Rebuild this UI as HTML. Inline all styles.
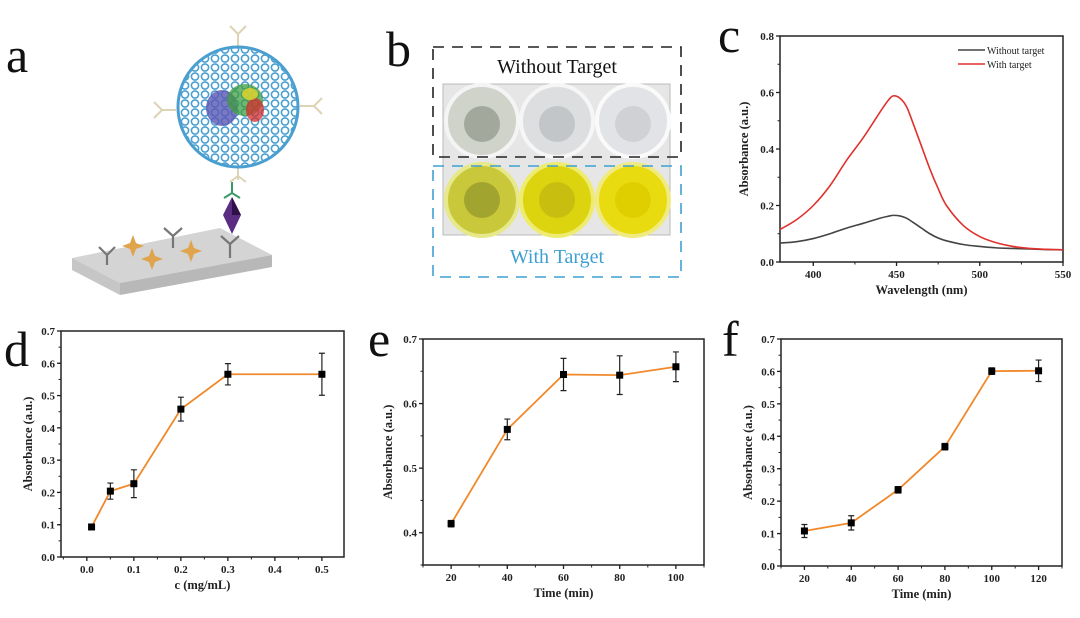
<!DOCTYPE html>
<html><head><meta charset="utf-8">
<style>
html,body{margin:0;padding:0;background:#fff;}
svg{display:block;font-family:"Liberation Serif",serif;}
.tk{font-size:11px;font-weight:bold;fill:#222;}
.ttl{font-size:12.5px;font-weight:bold;fill:#222;}
.let{font-size:50px;fill:#111;}
</style></head>
<body>
<svg id="fig" width="1080" height="618" viewBox="0 0 1080 618" xmlns="http://www.w3.org/2000/svg">
<defs>
  <pattern id="mesh" width="10" height="9" patternUnits="userSpaceOnUse">
    <circle cx="5" cy="4.5" r="3.6" fill="none" stroke="#4a9fd0" stroke-width="1.6"/>
  </pattern>
</defs>
<rect width="1080" height="618" fill="#fff"/>
<!-- Panel letters -->
<text class="let" x="6" y="72">a</text>
<text class="let" x="386" y="66">b</text>
<text class="let" x="718" y="52">c</text>
<text class="let" x="4" y="366">d</text>
<text class="let" x="368" y="356">e</text>
<text class="let" x="722" y="356">f</text>

<!-- Panel a schematic -->
<g>
  <polygon points="72,258 220,228 272,255 120,283" fill="#d4d4d4"/>
  <polygon points="120,283 272,255 272,267 120,295" fill="#b8b8b8"/>
  <polygon points="72,258 120,283 120,295 72,270" fill="#c6c6c6"/>
  <g stroke="#777" stroke-width="2.2" fill="none">
    <path d="M107,265 v-10 M107,255 l-8,-8 M107,255 l8,-8"/>
    <path d="M173,248 v-12 M173,236 l-9,-8 M173,236 l9,-8"/>
    <path d="M230,258 v-14 M230,244 l-9,-8 M230,244 l9,-8"/>
  </g>
  <g fill="#e0a44d">
    <path d="M133,235 l3,8 8,3 -8,3 -3,8 -3,-8 -8,-3 8,-3z"/>
    <path d="M152,248 l3,8 8,3 -8,3 -3,8 -3,-8 -8,-3 8,-3z"/>
    <path d="M191,240 l3,8 8,3 -8,3 -3,8 -3,-8 -8,-3 8,-3z"/>
  </g>
  <polygon points="232,197 241,215 232,234 223,215" fill="#5a2d82"/>
  <polygon points="232,197 241,215 232,215" fill="#2e1247"/>
  <g stroke="#3a9a6a" stroke-width="2" fill="none">
    <path d="M232,182 v11 M232,193 l-8,5 M232,193 l8,5"/>
  </g>
  <g stroke="#ddd3b5" stroke-width="2" fill="none">
    <path d="M238,48 v-14 M238,34 l-8,-8 M238,34 l8,-8"/>
    <path d="M176,110 h-14 M162,110 l-8,-8 M162,110 l-8,8"/>
    <path d="M300,106 h14 M314,106 l8,-8 M314,106 l8,8"/>
    <path d="M238,166 v14 M238,176 l-8,6 M238,176 l8,6"/>
  </g>
  <circle cx="238" cy="107" r="60" fill="url(#mesh)" stroke="#4a9fd0" stroke-width="3"/>
  <ellipse cx="222" cy="108" rx="16" ry="18" fill="#5a58b5" opacity="0.8"/>
  <ellipse cx="245" cy="100" rx="18" ry="16" fill="#3f9e3f" opacity="0.75"/>
  <ellipse cx="255" cy="110" rx="9" ry="12" fill="#d52c2c" opacity="0.75"/>
  <ellipse cx="250" cy="94" rx="8" ry="6" fill="#e3d52c" opacity="0.8"/>
</g>

<!-- Panel b photo -->
<g>
  <rect x="443" y="84" width="227" height="151" fill="#e6e6e6"/>
  <rect x="443" y="84" width="227" height="151" fill="none" stroke="#bbb"/>
  <g>
    <circle cx="482" cy="121" r="36" fill="#cfd3ca" stroke="#f4f4f4" stroke-width="4"/>
    <circle cx="482" cy="124" r="18" fill="#a2a99c"/>
    <circle cx="557" cy="121" r="36" fill="#dcdee0" stroke="#f6f6f6" stroke-width="4"/>
    <circle cx="557" cy="124" r="18" fill="#c3c6c9"/>
    <circle cx="633" cy="121" r="36" fill="#e2e3e6" stroke="#fafafa" stroke-width="4"/>
    <circle cx="633" cy="124" r="18" fill="#cfd1d4"/>
  </g>
  <g>
    <circle cx="482" cy="200" r="36" fill="#c9c83a" stroke="#e6e88a" stroke-width="4"/>
    <circle cx="482" cy="200" r="18" fill="#a2a430"/>
    <circle cx="557" cy="200" r="36" fill="#dcd40e" stroke="#eeec70" stroke-width="4"/>
    <circle cx="557" cy="200" r="18" fill="#c8be10"/>
    <circle cx="633" cy="200" r="36" fill="#e8dc10" stroke="#f0ea80" stroke-width="4"/>
    <circle cx="633" cy="200" r="18" fill="#e0cf00"/>
  </g>
  <rect x="433" y="47" width="248" height="110" fill="none" stroke="#222" stroke-width="1.6" stroke-dasharray="11 8"/>
  <rect x="433" y="166" width="248" height="111" fill="none" stroke="#3fa0d2" stroke-width="1.6" stroke-dasharray="11 8"/>
  <text x="557" y="73" text-anchor="middle" font-size="20" fill="#111">Without Target</text>
  <text x="557" y="263" text-anchor="middle" font-size="20" fill="#3fa0d2">With Target</text>
</g>

<g id="charts"></g>
</svg>
<script>
// ---- Panel c data ----
const cWavelength = [380,390,400,410,420,430,440,445,448,452,456,460,465,470,475,480,490,500,510,520,530,540,550];
const cWithTarget = [0.115,0.15,0.20,0.27,0.36,0.44,0.53,0.572,0.588,0.580,0.55,0.49,0.41,0.33,0.26,0.20,0.13,0.09,0.068,0.055,0.048,0.045,0.043];
const cWithout = [0.067,0.072,0.083,0.10,0.12,0.137,0.155,0.162,0.165,0.163,0.155,0.14,0.12,0.10,0.085,0.075,0.062,0.055,0.05,0.048,0.046,0.044,0.043];
const cYTicks = ["0.0","0.2","0.4","0.6","0.8"];
const cXTicks = ["400","450","500","550"];
// ---- Panel d data ----
const dConc = [0.01,0.05,0.1,0.2,0.3,0.5];
const dAbs = [0.093,0.204,0.227,0.458,0.566,0.566];
const dErr = [0.005,0.025,0.043,0.037,0.033,0.065];
const dXTicks = ["0.0","0.1","0.2","0.3","0.4","0.5"];
const dYTicks = ["0.0","0.1","0.2","0.3","0.4","0.5","0.6","0.7"];
// ---- Panel e data ----
const eTime = [20,40,60,80,100];
const eAbs = [0.414,0.560,0.645,0.644,0.657];
const eErr = [0.005,0.016,0.025,0.030,0.023];
const eXTicks = ["20","40","60","80","100"];
const eYTicks = ["0.4","0.5","0.6","0.7"];
// ---- Panel f data ----
const fTime = [20,40,60,80,100,120];
const fAbs = [0.108,0.133,0.235,0.368,0.601,0.602];
const fErr = [0.02,0.022,0.01,0.01,0.01,0.033];
const fXTicks = ["20","40","60","80","100","120"];
const fYTicks = ["0.0","0.1","0.2","0.3","0.4","0.5","0.6","0.7"];

const NS="http://www.w3.org/2000/svg";
const root=document.getElementById('charts');
function mk(tag,attrs,parent){const e=document.createElementNS(NS,tag);for(const k in attrs)e.setAttribute(k,attrs[k]);(parent||root).appendChild(e);return e;}

function smoothPath(pts){
  let d='M'+pts[0][0]+','+pts[0][1];
  for(let i=0;i<pts.length-1;i++){
    const p0=pts[Math.max(0,i-1)],p1=pts[i],p2=pts[i+1],p3=pts[Math.min(pts.length-1,i+2)];
    const c1=[p1[0]+(p2[0]-p0[0])/6,p1[1]+(p2[1]-p0[1])/6];
    const c2=[p2[0]-(p3[0]-p1[0])/6,p2[1]-(p3[1]-p1[1])/6];
    d+=`C${c1[0]},${c1[1]} ${c2[0]},${c2[1]} ${p2[0]},${p2[1]}`;
  }
  return d;
}

function axes(g,box,xr,yr,xt,yt,xminor,yminor,xTitle,yLabelX,pfx){
  const sx=v=>box.x0+(v-xr[0])/(xr[1]-xr[0])*(box.x1-box.x0);
  const sy=v=>box.y1-(v-yr[0])/(yr[1]-yr[0])*(box.y1-box.y0);
  const frame=mk('rect',{x:box.x0,y:box.y0,width:box.x1-box.x0,height:box.y1-box.y0,fill:'none',stroke:'#222','stroke-width':1.5},g);
  
  
  xt.forEach(t=>{const v=parseFloat(t),x=sx(v);
    mk('line',{x1:x,x2:x,y1:box.y1,y2:box.y1+4,stroke:'#222','stroke-width':1.3},g);
    const tx=mk('text',{x:x,y:box.y1+16,'text-anchor':'middle',class:'tk'},g);tx.textContent=t;
    
    
  });
  for(let v=xr[0];v<=xr[1]+1e-9;v+=xminor){const r=Math.round(v/xminor)*xminor;if(r<xr[0]-1e-9||r>xr[1]+1e-9)continue;const x=sx(r);
    mk('line',{x1:x,x2:x,y1:box.y1,y2:box.y1+2.5,stroke:'#222','stroke-width':1},g);}
  yt.forEach(t=>{const v=parseFloat(t),y=sy(v);
    mk('line',{x1:box.x0-4,x2:box.x0,y1:y,y2:y,stroke:'#222','stroke-width':1.3},g);
    const tx=mk('text',{x:box.x0-6,y:y+4,'text-anchor':'end',class:'tk'},g);tx.textContent=t;
    
    
  });
  for(let v=Math.ceil(yr[0]/yminor)*yminor;v<=yr[1]+1e-9;v+=yminor){const y=sy(v);
    mk('line',{x1:box.x0-2.5,x2:box.x0,y1:y,y2:y,stroke:'#222','stroke-width':1},g);}
  const xl=mk('text',{x:(box.x0+box.x1)/2,y:box.y1+32,'text-anchor':'middle',class:'ttl'},g);xl.textContent=xTitle;
  
  
  const cy=(box.y0+box.y1)/2;
  const yl=mk('text',{x:yLabelX,y:cy,'text-anchor':'middle',class:'ttl',transform:`rotate(-90 ${yLabelX} ${cy})`},g);yl.textContent='Absorbance (a.u.)';
  
  
  return {sx,sy};
}

function errChart(pfx,box,xr,yr,xt,yt,xminor,yminor,xTitle,ylx,xs,ys,es){
  const g=mk('g',{});
  
  
  const {sx,sy}=axes(g,box,xr,yr,xt,yt,xminor,yminor,xTitle,ylx,pfx);
  const line=mk('polyline',{points:xs.map((x,i)=>sx(x)+','+sy(ys[i])).join(' '),fill:'none',stroke:'#f0892b','stroke-width':1.8},g);
  
  
  xs.forEach((x,i)=>{const px=sx(x),pt=sy(ys[i]+es[i]),pb=sy(ys[i]-es[i]);
    const eb=mk('path',{d:`M${px},${pt}V${pb}M${px-3},${pt}h6M${px-3},${pb}h6`,stroke:'#222','stroke-width':1.2,fill:'none'},g);
    
    
    const m=mk('rect',{x:px-3.5,y:sy(ys[i])-3.5,width:7,height:7,fill:'#000'},g);
    
    
  });
}

// Panel c
(function(){
  const g=mk('g',{});
  
  
  const box={x0:780,x1:1063,y0:36,y1:262};
  const {sx,sy}=axes(g,box,[380,550],[0,0.8],cXTicks,cYTicks,25,0.1,'Wavelength (nm)',748,'c');
  const l1=mk('path',{d:smoothPath(cWavelength.map((w,i)=>[sx(w),sy(cWithout[i])])),fill:'none',stroke:'#444','stroke-width':1.6},g);
  
  
  const l2=mk('path',{d:smoothPath(cWavelength.map((w,i)=>[sx(w),sy(cWithTarget[i])])),fill:'none',stroke:'#e0312c','stroke-width':1.6},g);
  
  
  const a=mk('line',{x1:958,x2:985,y1:50,y2:50,stroke:'#444','stroke-width':1.6},g);
  
  
  const at=mk('text',{x:987,y:54,'font-size':10,fill:'#222'},g);at.textContent='Without target';
  
  
  const b=mk('line',{x1:958,x2:985,y1:64,y2:64,stroke:'#e0312c','stroke-width':1.6},g);
  
  
  const bt=mk('text',{x:987,y:68,'font-size':10,fill:'#222'},g);bt.textContent='With target';
  
  
})();

errChart('d',{x0:61,x1:344,y0:331,y1:557},[-0.055,0.547],[0,0.7],dXTicks,dYTicks,0.05,0.05,'c (mg/mL)',32,dConc,dAbs,dErr);
errChart('e',{x0:423,x1:704,y0:339,y1:565},[10,110],[0.35,0.7],eXTicks,eYTicks,10,0.05,'Time (min)',392,eTime,eAbs,eErr);
errChart('f',{x0:781,x1:1062,y0:339,y1:566},[10,130],[0,0.7],fXTicks,fYTicks,10,0.05,'Time (min)',752,fTime,fAbs,fErr);
</script>
</body></html>
